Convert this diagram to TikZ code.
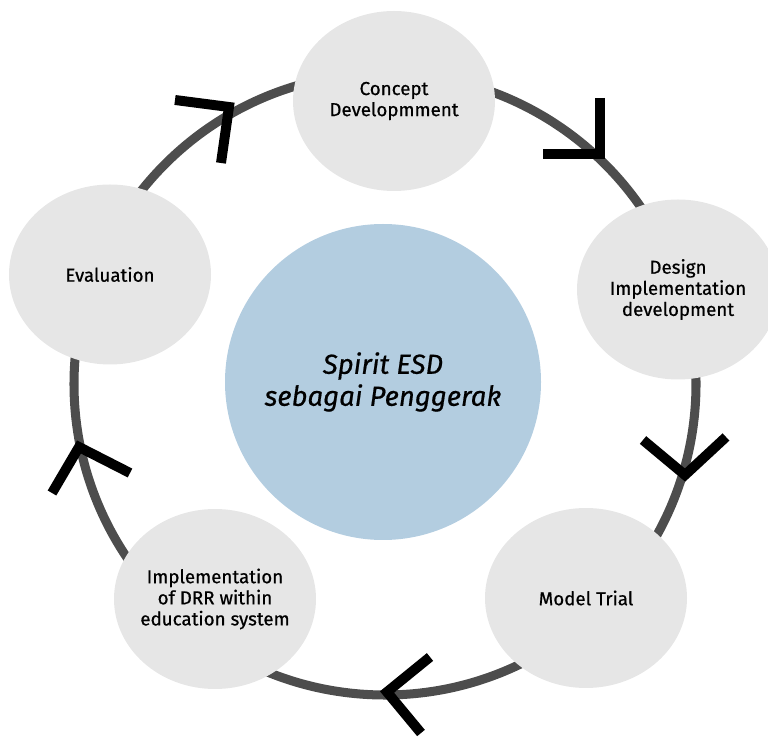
\documentclass[tikz,border=0pt]{standalone}
\usepackage{fontspec}
\setmainfont{Fira Sans}[FakeBold=0.6]
\usetikzlibrary{shapes.geometric}
\definecolor{abu}{HTML}{E6E6E6}
\definecolor{cincin}{HTML}{4D4D4D}
\definecolor{biru}{HTML}{B3CDE0}
\tikzset{
  tahap/.style={ellipse,fill=abu,minimum width=60.6mm,minimum height=54mm,inner sep=-12pt,
    align=center,font=\fontsize{16}{18}\selectfont},
  panah/.style={line width=8.5pt,line cap=butt,line join=miter}
}
\begin{document}
\begin{tikzpicture}[x=3mm,y=3mm]
\def\siklus{(38.5,35.4) circle (31.1)}
\useasboundingbox (0,0) rectangle (76.8,73.8);
\draw[cincin,line width=7.7pt]\siklus;
\node[circle,fill=biru,minimum size=94.8mm,inner sep=0pt,align=center,
  font=\fontsize{23.5}{27.3}\selectfont\itshape] (inti) at (38.3,35.6) {Spirit ESD\\sebagai Penggerak};
\node[tahap] (konsep) at (39.4,63.7) {Concept\\Developmment};
\node[tahap] (desain) at (67.8,44.85) {Design\\Implementation\\development};
\node[tahap] (ujicoba) at (58.6,14.0) {Model Trial};
\node[tahap] (implementasi) at (21.5,13.9) {Implementation\\of DRR within\\education system};
\node[tahap] (evaluasi) at (11.0,46.35) {Evaluation};
\draw[panah] (17.5,63.8) -- (22.9,63.1) -- (22.1,57.5);
\draw[panah] (60.0,64.0) -- (60.0,58.4) -- (54.3,58.4);
\draw[panah] (64.3,29.8) -- (68.5,26.3) -- (72.6,30.1);
\draw[panah] (43.0,8.1) -- (38.7,4.6) -- (42.1,0.5);
\draw[panah] (5.2,24.5) -- (7.9,29.1) -- (13.0,26.5);
\end{tikzpicture}
\end{document}
